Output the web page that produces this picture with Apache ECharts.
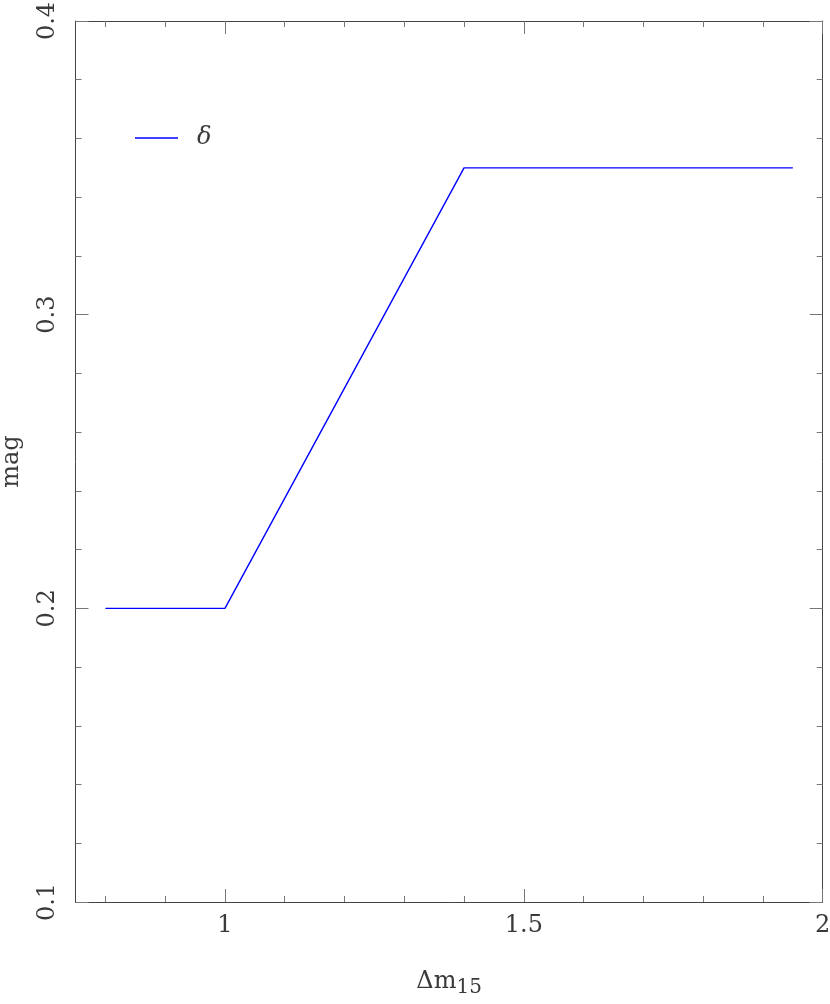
<!DOCTYPE html>
<html><head><meta charset="utf-8">
<script src="https://cdn.jsdelivr.net/npm/echarts@6/dist/echarts.min.js"></script>
<style>html,body{margin:0;padding:0;background:#fff}#c{width:830px;height:1004px}</style>
</head><body><div id="c"></div>
<script>
const xValues = [0.8, 1.0, 1.4, 1.95];
const deltaValues = [0.2, 0.2, 0.35, 0.35];
const seriesName = 'δ';
const xMajorTicks = [1, 1.5, 2];
const xMinorTicks = [0.8, 0.9, 1.0, 1.1, 1.2, 1.3, 1.4, 1.5, 1.6, 1.7, 1.8, 1.9, 2.0];

const FONT = 'DejaVu Serif';
const TXT = '#3a3a3a';
const grid = {left: 75.5, right: 7.3, top: 21, bottom: 102, containLabel: false, outerBoundsMode: 'none'};
const lineCol = '#444', tickCol = '#777';

const chart = echarts.init(document.getElementById('c'), null, {renderer: 'canvas'});
const baseX = {type: 'value', min: 0.75, max: 2.0, splitLine: {show: false},
  axisLine: {show: true, onZero: false, lineStyle: {color: lineCol, width: 1}}};
const baseY = {type: 'value', min: 0.1, max: 0.4, interval: 0.1, splitLine: {show: false},
  axisLine: {show: true, onZero: false, lineStyle: {color: lineCol, width: 1}},
  axisTick: {show: true, inside: true, length: 13, lineStyle: {color: tickCol}},
  minorTick: {show: true, splitNumber: 5, length: 6, lineStyle: {color: tickCol}}};

function minorAxis(pos) {
  return Object.assign({}, baseX, {position: pos,
    axisTick: {show: true, inside: true, length: 6, customValues: xMinorTicks, lineStyle: {color: tickCol}},
    axisLabel: {show: false}});
}
function majorAxis(pos, labels) {
  return Object.assign({}, baseX, {position: pos, axisLine: {show: false},
    axisTick: {show: true, inside: true, length: 13, customValues: xMajorTicks, lineStyle: {color: tickCol}},
    axisLabel: labels ? {show: true, margin: 12, fontFamily: FONT, fontSize: 24, color: TXT,
      customValues: xMajorTicks, formatter: v => String(+(+v).toFixed(2))} : {show: false}});
}

const xBottom = minorAxis('bottom');
Object.assign(xBottom, {name: '{d|Δm}{s|15}', nameLocation: 'middle', nameGap: 63,
  nameTextStyle: {rich: {d: {fontFamily: FONT, fontSize: 24, color: TXT},
    s: {fontFamily: FONT, fontSize: 20, color: TXT, verticalAlign: 'bottom', padding: [13, 0, 0, 0]}}}});

const option = {
  animation: false,
  grid: grid,
  xAxis: [xBottom, majorAxis('bottom', true), minorAxis('top'), majorAxis('top', false)],
  yAxis: [
    Object.assign({}, baseY, {position: 'left',
      axisLabel: {show: true, rotate: 90, margin: 16, fontFamily: FONT, fontSize: 24, color: TXT,
        formatter: v => String(+(+v).toFixed(2))},
      name: 'mag', nameLocation: 'middle', nameGap: 52, nameRotate: 90,
      nameTextStyle: {fontFamily: FONT, fontSize: 24, color: TXT}}),
    Object.assign({}, baseY, {position: 'right', axisLabel: {show: false}})
  ],
  legend: {left: 130, top: 121, itemWidth: 43, itemHeight: 1.5, icon: 'rect', itemGap: 10,
    textStyle: {fontFamily: FONT, fontSize: 24, fontStyle: 'italic', color: TXT, padding: [0, 0, 6, 14]},
    data: [seriesName]},
  series: [{
    name: seriesName, type: 'line', xAxisIndex: 0, yAxisIndex: 0,
    data: xValues.map((x, i) => [x, deltaValues[i]]),
    showSymbol: false, symbol: 'none',
    lineStyle: {color: '#0000ff', width: 1.4}, itemStyle: {color: '#0000ff'}
  }]
};
chart.setOption(option);
</script></body></html>
